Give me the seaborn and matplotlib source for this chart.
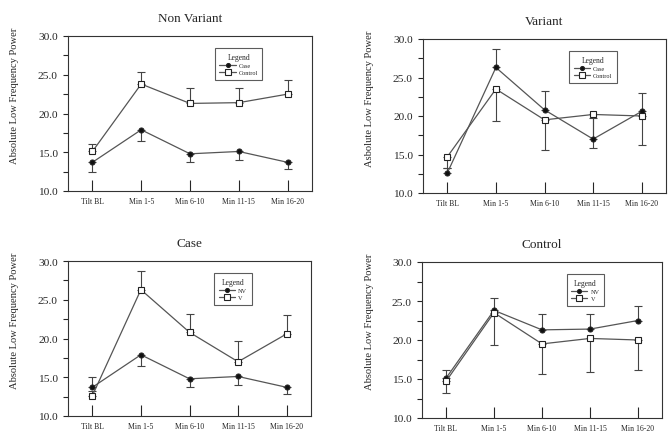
import numpy as np
import pandas as pd
import matplotlib
matplotlib.use('Agg')
import matplotlib.pyplot as plt
import seaborn as sns

# data
periods = ['Tilt BL', 'Min 1-5', 'Min 6-10', 'Min 11-15', 'Min 16-20']

case_nv = [13.7, 17.9, 14.8, 15.1, 13.7]
case_nv_err = [1.3, 1.4, 1.0, 1.1, 0.9]
control_nv = [15.1, 23.8, 21.3, 21.4, 22.5]
control_nv_err = [1.0, 1.6, 2.0, 1.9, 1.8]
case_v = [12.6, 26.3, 20.8, 17.0, 20.6]
case_v_err = [0.6, 2.4, 2.4, 2.7, 2.4]
control_v = [14.7, 23.5, 19.5, 20.2, 20.0]
control_v_err = [1.5, 4.2, 3.9, 4.3, 3.8]

sns.set_style('ticks')
plt.rcParams['font.family'] = ['Liberation Serif', 'DejaVu Serif']

fig = plt.figure(figsize=(6.69, 4.39), dpi=100)
W, H = 669, 439

def make_ax(l, t, r, b):
    return fig.add_axes([l / W, 1 - b / H, (r - l) / W, (b - t) / H])

up = [1, 1, 1, 1, 1]
down = [-1, -1, -1, -1, -1]

# (title, ylabel, filled series, open series, labels, error directions, box)
panels = [
    ('Non Variant', 'Absolute Low Frequency Power', (case_nv, case_nv_err), (control_nv, control_nv_err),
     'Case', 'Control', down, up, (68, 37, 312, 192)),
    ('Variant', 'Asbolute Low Frequency Power', (case_v, case_v_err), (control_v, control_v_err),
     'Case', 'Control', up, down, (423, 40, 666, 194)),
    ('Case', 'Absolute Low Frequency Power', (case_nv, case_nv_err), (case_v, case_v_err),
     'NV', 'V', [1, -1, -1, -1, -1], up, (68, 262, 311, 417)),
    ('Control', 'Absolute Low Frequency Power', (control_nv, control_nv_err), (control_v, control_v_err),
     'NV', 'V', up, down, (422, 263, 662, 419)),
]

x = np.arange(len(periods))
for title, ylab, filled, opened, lab_f, lab_o, dir_f, dir_o, box in panels:
    ax = make_ax(*box)
    handles = []
    for (vals, err), lab, d, face, mk, ms in [(filled, lab_f, dir_f, '#111111', 'o', 3.6),
                                              (opened, lab_o, dir_o, 'white', 's', 5)]:
        err = np.array(err)
        d = np.array(d)
        yerr = [np.where(d < 0, err, 0), np.where(d > 0, err, 0)]
        ax.errorbar(x, vals, yerr=yerr, fmt='none', ecolor='#444444', elinewidth=0.8,
                    capsize=3, capthick=0.8, zorder=2)
        df = pd.DataFrame({'x': x, 'y': vals})
        sns.lineplot(data=df, x='x', y='y', ax=ax, color='#555555', linewidth=0.9,
                     marker=mk, markersize=ms, markerfacecolor=face,
                     markeredgecolor='#222222', markeredgewidth=0.8, zorder=3)
        handles.append(ax.lines[-1])
    ax.set_xlim(-0.5, 4.5)
    ax.set_ylim(10, 30)
    ax.set_xticks(x)
    ax.set_xticklabels(periods, fontsize=5.6)
    ax.set_yticks([10, 15, 20, 25, 30])
    ax.set_yticks([12.5, 17.5, 22.5, 27.5], minor=True)
    ax.set_yticklabels(['10.0', '15.0', '20.0', '25.0', '30.0'], fontsize=8.2)
    ax.tick_params(axis='x', direction='in', length=8, width=0.8, pad=4)
    ax.tick_params(axis='y', which='both', direction='out', length=3.5, width=0.8, pad=4)
    ax.set_xlabel('')
    ax.set_ylabel(ylab, fontsize=7.6)
    ax.yaxis.set_label_coords(-0.2, 0.62)
    ax.set_title(title, fontsize=9.5, pad=11)
    for s in ax.spines.values():
        s.set_linewidth(0.8)
        s.set_color('#333333')
    leg = ax.legend(handles, [lab_f, lab_o], title='Legend', loc='upper left',
                    bbox_to_anchor=(0.59, 0.94), fontsize=4.5, title_fontsize=5.5,
                    frameon=True, fancybox=False, edgecolor='#333333',
                    handlelength=2.6, handletextpad=0.5, borderpad=0.7,
                    labelspacing=0.3, markerscale=0.8)
    leg.get_frame().set_linewidth(0.8)

fig.savefig('out.png', dpi=100)
